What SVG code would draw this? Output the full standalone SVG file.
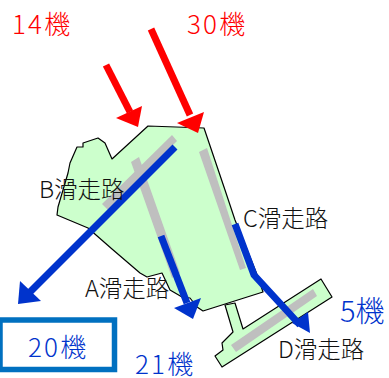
<svg xmlns="http://www.w3.org/2000/svg" width="389" height="378" viewBox="0 0 389 378">
<style>
text{font-family:"Noto Sans CJK JP","Liberation Sans",sans-serif;font-weight:300}
.land{fill:#ccffcc;stroke:#000;stroke-width:1.2;stroke-linejoin:round}
.rw{fill:#bfbfbf}
.lab{font-size:23.500px;fill:#111}
.red{font-size:26px;fill:#ff0000;letter-spacing:2.200px}
.blue{font-size:26px;fill:#0033cc;letter-spacing:2.200px}
.rl{stroke:#ff0000;stroke-width:7;fill:none}
.bl{stroke:#0033cc;stroke-width:7;fill:none}
</style>
<g id="airport">
<path class="land" d="M148 126L204 128L225 190L235 220L248 252L258 277L263 292L203 311L197 307L190 298L182 297L170 290L162 273L147 277L140 273L112 249L88 228L57 215L58 207L68 173L70 163L77 147L83 147L83 143L98 138L105 143L112 159Z"/>
<path class="land" d="M225 305L235 303L243 329L321 279L332 297L222 367L215 356L223 350L222 343L233 332Z"/>
<path class="rw" d="M172 135L177 141L108 210L102 204Z"/>
<path class="rw" d="M131 162L139 157L180 273L172 278Z"/>
<path class="rw" d="M199 152L207 148L246 268L240 270Z"/>
<path class="rw" d="M231 345L313 289L317 296L236 352Z"/>
</g>
<g id="connectors">
<path class="rl" d="M106 65L130 112"/>
<path fill="#ff0000" d="M116 118L142 106L138 127Z"/>
<path class="rl" d="M151 29L190 115"/>
<path fill="#ff0000" d="M177 123L204 112L198 133Z"/>
<path class="bl" d="M175 147L30 292"/>
<path fill="#0033cc" d="M20 281L41 301L18 304Z"/>
<path class="bl" d="M161 236L187 303"/>
<path fill="#0033cc" d="M174 308L201 298L193 319Z"/>
<path class="bl" d="M235 224L254 275L300 325"/>
<path fill="#0033cc" d="M308 312L310 333L292 323Z"/>
</g>
<g id="box-20"><rect x="0" y="320" width="114.500" height="49.500" fill="#fff" stroke="#0070c0" stroke-width="5.500"/><text class="blue" x="28" y="357">20機</text></g>
<g id="labels">
<text class="red" x="12" y="34">14機</text>
<text class="red" x="187" y="34">30機</text>
<text class="blue" x="135" y="374">21機</text>
<text class="blue" x="340" y="322" style="font-size:29px;letter-spacing:0">5機</text>
<text class="lab" x="39" y="198">B滑走路</text>
<text class="lab" x="85" y="297">A滑走路</text>
<text class="lab" x="243" y="227">C滑走路</text>
<text class="lab" x="278" y="358">D滑走路</text>
</g>
</svg>
